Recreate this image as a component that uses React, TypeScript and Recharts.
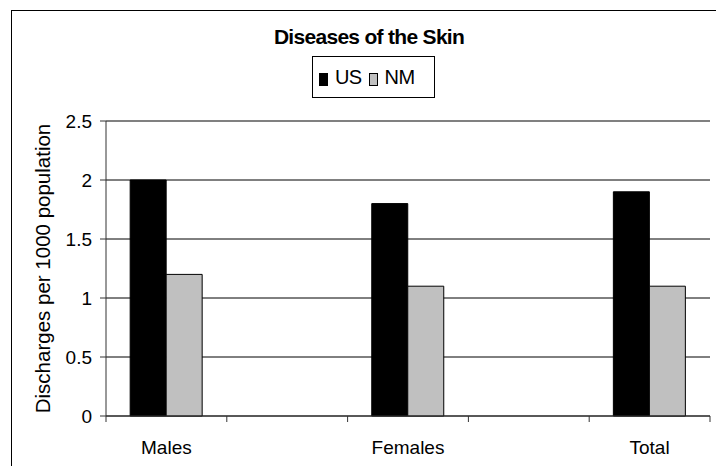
import React from "react";
import { Bar, BarChart, CartesianGrid, ReferenceLine, XAxis, YAxis } from "recharts";

// blank slots between groups, like the original spreadsheet chart
const categories = ["Males", "", "Females", "", "Total"];
const usValues = [2.0, null, 1.8, null, 1.9];
const nmValues = [1.2, null, 1.1, null, 1.1];
const yTicks = [0, 0.5, 1, 1.5, 2, 2.5];
const seriesNames = ["US", "NM"];
const seriesColors = ["#000", "#C0C0C0"];

const data = categories.map((name, i) => ({ name, US: usValues[i], NM: nmValues[i] }));

const FONT = "'Liberation Sans', Arial, sans-serif";

function CategoryTick(props: any) {
  const { x, y, payload, width, visibleTicksCount } = props;
  const band = width / visibleTicksCount;
  const axisY = y - 8;
  const last = payload.index === visibleTicksCount - 1;
  return (
    <g>
      <line x1={x - band / 2} x2={x - band / 2} y1={axisY} y2={axisY + 6} stroke="#333" />
      {last && <line x1={x + band / 2} x2={x + band / 2} y1={axisY} y2={axisY + 6} stroke="#333" />}
      <text x={x} y={axisY + 38} textAnchor="middle" fontSize={19} fontFamily={FONT} fill="#000">
        {payload.value}
      </text>
    </g>
  );
}

function AxisTitle(props: any) {
  const { viewBox } = props;
  const cy = viewBox.y + viewBox.height / 2;
  return (
    <text
      x={42}
      y={cy}
      transform={`rotate(-90, 42, ${cy})`}
      textAnchor="middle"
      dominantBaseline="central"
      fontSize={20.5}
      fontFamily={FONT}
      fill="#000"
    >
      Discharges per 1000 population
    </text>
  );
}

function LegendBox() {
  return (
    <div
      style={{
        position: "absolute",
        left: 312,
        top: 56,
        width: 123,
        height: 42,
        border: "1px solid #000",
        boxSizing: "border-box",
        display: "flex",
        alignItems: "center",
        paddingLeft: 6,
        fontFamily: FONT,
        background: "#fff",
      }}
    >
      {seriesNames.map((name, i) => (
        <span key={name} style={{ display: "flex", alignItems: "center", marginRight: 7 }}>
          <span
            style={{
              width: 9,
              height: 13,
              background: seriesColors[i],
              border: "1px solid #000",
              boxSizing: "border-box",
              marginRight: 7,
              marginTop: 4,
            }}
          />
          <span style={{ fontSize: 20, letterSpacing: -0.6 }}>{name}</span>
        </span>
      ))}
    </div>
  );
}

export default function App() {
  return (
    <div style={{ position: "absolute", left: 0, top: 0, width: 716, height: 466, overflow: "hidden", background: "#fff" }}>
      <div
        style={{
          position: "absolute",
          left: 11,
          top: 10,
          width: 740,
          height: 500,
          border: "1.5px solid #000",
        }}
      />
      <BarChart
        width={716}
        height={466}
        data={data}
        margin={{ top: 121, right: 6, bottom: 0, left: 10 }}
        barCategoryGap="20%"
        barGap={0}
        style={{ position: "absolute", left: 0, top: 0 }}
      >
        <CartesianGrid vertical={false} stroke="#000" />
        <XAxis
          dataKey="name"
          height={50}
          axisLine={{ stroke: "#333" }}
          tickLine={false}
          tick={<CategoryTick />}
          interval={0}
        />
        <YAxis
          width={96}
          domain={[0, 2.5]}
          ticks={yTicks}
          axisLine={{ stroke: "#333" }}
          tickLine={{ stroke: "#333" }}
          tickSize={6}
          tickMargin={8}
          tick={{ fontSize: 19, fill: "#000", fontFamily: FONT }}
          label={<AxisTitle />}
        />
        <YAxis
          yAxisId="frame"
          orientation="right"
          width={0}
          domain={[0, 2.5]}
          tick={false}
          tickLine={false}
          axisLine={{ stroke: "#808080", strokeWidth: 1.5 }}
        />
        <ReferenceLine y={2.5} stroke="#808080" strokeWidth={1.5} />
        <Bar dataKey="US" fill={seriesColors[0]} stroke="#000" isAnimationActive={false} />
        <Bar dataKey="NM" fill={seriesColors[1]} stroke="#000" isAnimationActive={false} />
      </BarChart>
      <div
        style={{
          position: "absolute",
          left: 259,
          width: 220,
          top: 26,
          textAlign: "center",
          fontFamily: FONT,
          fontWeight: "bold",
          fontSize: 21,
          letterSpacing: -0.7,
          lineHeight: "22px",
        }}
      >
        Diseases of the Skin
      </div>
      <LegendBox />
    </div>
  );
}
